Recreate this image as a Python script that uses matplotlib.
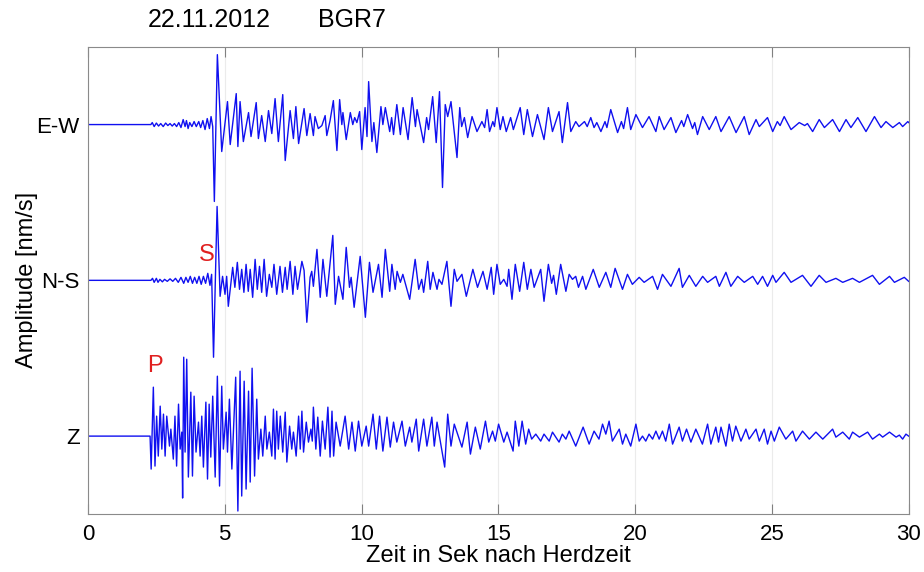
import matplotlib
matplotlib.use('Agg')

import numpy as np
import matplotlib.pyplot as plt

# ------------------------------------------------------------
# Daten: Umkehrpunkte (Zeit [s], Amplitude [counts]) je Komponente
# abgelesen aus dem Seismogramm BGR7, 22.11.2012
# ------------------------------------------------------------
ew = [(0, 0), (2.30, 0), (2.35, 2), (2.42, -2), (2.50, 1.5), (2.58, -1.5), (2.66, 1), (2.75, -2),
      (2.84, 1.5), (2.92, -1), (3.00, 1), (3.08, -1.5), (3.16, 1), (3.24, -2), (3.32, 2), (3.40, -3),
      (3.48, 5), (3.55, -2), (3.60, 4), (3.66, -4), (3.72, 2), (3.80, -2), (3.88, 3), (3.96, -2),
      (4.05, 3), (4.12, -3), (4.20, 4), (4.28, -5), (4.36, 6), (4.44, -4), (4.50, 8), (4.56, -2),
      (4.62, -77), (4.73, 70), (4.89, -27), (5.10, 23), (5.20, -20), (5.42, 31), (5.48, -22),
      (5.56, 23), (5.68, -17), (5.87, 12), (5.96, -12), (6.15, 22), (6.23, -14), (6.35, 9),
      (6.48, -17), (6.60, 14), (6.72, -9), (6.84, 26), (6.96, -17), (7.12, 30), (7.21, -36),
      (7.39, 14), (7.51, -14), (7.60, 18), (7.70, -19), (7.90, 16), (8.00, -11), (8.12, 11),
      (8.24, -11), (8.30, 8), (8.42, -4), (8.55, -1), (8.67, 9), (8.73, -11), (8.85, 4), (8.97, 24),
      (9.10, -26), (9.20, 25), (9.28, 0), (9.32, 12), (9.44, -15), (9.59, 12), (9.68, 0), (9.75, 7),
      (9.83, 2), (9.93, 13), (10.01, -25), (10.13, 17), (10.20, -12), (10.26, 43), (10.38, -17),
      (10.45, 2), (10.56, -28), (10.71, 18), (10.78, 0), (10.87, 17), (11.03, -7), (11.10, 7),
      (11.17, -10), (11.29, 20), (11.42, -10), (11.52, 17), (11.70, -15), (11.85, 27), (11.97, -2),
      (12.03, 15), (12.27, -18), (12.38, 7), (12.45, -5), (12.60, 28), (12.73, -18), (12.85, 33),
      (12.96, -63), (13.06, 20), (13.15, 8), (13.27, 23), (13.49, -33), (13.59, 17), (13.66, -2),
      (13.76, 7), (13.88, -13), (14.04, 8), (14.22, -7), (14.40, 3), (14.50, -3), (14.59, 15),
      (14.68, -7), (14.80, 3), (14.86, -2), (14.95, 17), (15.07, -5), (15.17, 8), (15.29, -7),
      (15.45, 7), (15.55, -5), (15.80, 17), (15.93, -10), (16.06, 15), (16.25, -12), (16.43, 10),
      (16.67, -15), (16.83, 17), (16.98, -7), (17.22, 13), (17.34, -18), (17.53, 22), (17.65, -7),
      (17.83, 3), (17.95, -2), (18.15, 3), (18.25, -2), (18.38, 7), (18.50, -3), (18.60, 2),
      (18.75, -7), (18.90, 3), (18.97, -3), (19.11, 15), (19.36, -8), (19.50, 3), (19.58, -4),
      (19.72, 17), (19.84, -5), (20.03, 10), (20.27, -3), (20.51, 8), (20.76, -7), (20.88, 8),
      (21.06, -5), (21.31, 7), (21.49, -8), (21.70, 4), (21.78, -2), (21.92, 10), (22.10, -4),
      (22.18, 2), (22.28, -10), (22.47, 8), (22.71, -5), (22.95, 8), (23.14, -7), (23.44, 8),
      (23.69, -8), (23.99, 8), (24.17, -10), (24.42, 5), (24.54, -2), (24.84, 7), (25.03, -7),
      (25.20, 3), (25.30, -1), (25.45, 8), (25.70, -5), (26.00, 2), (26.20, -1), (26.30, 1),
      (26.49, -7), (26.73, 5), (26.92, -3), (27.22, 5), (27.47, -7), (27.71, 5), (27.89, -3),
      (28.14, 7), (28.44, -7), (28.75, 8), (28.99, -3), (29.17, 3), (29.42, -3), (29.66, 2),
      (29.78, -2), (29.97, 3), (30.0, 2)]

ns = [(0, 0), (2.30, 0), (2.36, 2), (2.42, -2), (2.50, 2), (2.56, -2), (2.63, 1), (2.72, -1.5),
      (2.80, 1), (2.90, -1), (3.00, 1.5), (3.10, -1), (3.20, 2), (3.30, -2), (3.40, 3), (3.50, -3),
      (3.58, 3), (3.66, -2), (3.74, 4), (3.82, -3), (3.90, 3), (3.98, -3), (4.06, 4), (4.14, -4),
      (4.22, 4), (4.30, -3), (4.38, 7), (4.46, -5), (4.52, 6), (4.59, -77), (4.72, 74), (4.83, -16),
      (4.92, 4), (5.01, -14), (5.07, 4), (5.13, -26), (5.29, 13), (5.37, -7), (5.46, 18), (5.54, -9),
      (5.62, 11), (5.70, -12), (5.78, 16), (5.86, -11), (5.93, 11), (6.02, -17), (6.11, 21),
      (6.19, -9), (6.27, 14), (6.35, -12), (6.44, 21), (6.53, -16), (6.63, 6), (6.72, -7),
      (6.80, 16), (6.90, -14), (7.02, 14), (7.11, -12), (7.21, 13), (7.28, -9), (7.39, 19),
      (7.49, -14), (7.57, 14), (7.66, -9), (7.82, 19), (7.90, 10), (8.00, -42), (8.12, 3), (8.18, 9),
      (8.24, -6), (8.37, 31), (8.49, -17), (8.59, 21), (8.73, -16), (8.95, 45), (9.04, -24),
      (9.16, 4), (9.32, -19), (9.44, 33), (9.56, -7), (9.62, 3), (9.73, -27), (9.95, 24),
      (10.14, -37), (10.29, 18), (10.42, -12), (10.62, 16), (10.75, -17), (10.87, 31), (11.03, -11),
      (11.11, 16), (11.23, -9), (11.30, 9), (11.42, -2), (11.51, 6), (11.76, -19), (11.96, 21),
      (12.09, -9), (12.20, 1), (12.27, -12), (12.42, 19), (12.51, -9), (12.61, 8), (12.76, -9),
      (12.83, 1), (12.94, -4), (13.12, 19), (13.27, -26), (13.39, 11), (13.49, -1), (13.67, 6),
      (13.83, -16), (14.07, 11), (14.24, -7), (14.44, 9), (14.59, -9), (14.74, 13), (14.83, -14),
      (14.95, 16), (15.07, -4), (15.20, 1), (15.32, -6), (15.38, 11), (15.50, -19), (15.62, 16),
      (15.78, -11), (15.93, 18), (16.06, -9), (16.19, 11), (16.31, -7), (16.55, 11), (16.67, -21),
      (16.83, 16), (16.95, -3), (17.02, 5), (17.12, -14), (17.28, 16), (17.47, -11), (17.59, 6),
      (17.71, 1), (17.83, 4), (17.93, -7), (18.08, 4), (18.20, -9), (18.47, 11), (18.69, -7),
      (18.93, 8), (19.11, -7), (19.27, 12), (19.54, -9), (19.72, 6), (19.90, -4), (20.15, 3),
      (20.33, -2), (20.64, 4), (20.82, -9), (21.00, 6), (21.31, -6), (21.61, 12), (21.73, -7),
      (21.98, 5), (22.22, -6), (22.47, 4), (22.65, -2), (22.95, 4), (23.08, -6), (23.32, 8),
      (23.50, -6), (23.75, 4), (23.99, -2), (24.30, 4), (24.48, -4), (24.66, 4), (24.84, -6),
      (25.03, 5), (25.15, -2), (25.45, 8), (25.70, -2), (26.12, 5), (26.43, -6), (26.73, 5),
      (26.98, -2), (27.34, 2), (27.59, -2), (27.95, 2), (28.20, -2), (28.68, 5), (28.93, -4),
      (29.30, 4), (29.48, -2), (29.84, 3), (30.0, -1)]

z = [(0, 0), (2.27, 0), (2.31, -33), (2.39, 49), (2.45, -30), (2.51, 20), (2.57, -20), (2.64, 30),
     (2.70, -13), (2.76, 22), (2.82, -20), (2.88, 20), (2.98, -10), (3.03, 7), (3.12, -23),
     (3.18, 20), (3.24, -30), (3.31, 32), (3.37, -13), (3.43, 4), (3.46, -62), (3.50, 79),
     (3.55, -16), (3.61, 77), (3.67, -41), (3.76, 44), (3.82, -40), (3.88, 40), (3.95, -16),
     (4.04, 14), (4.10, -20), (4.16, 20), (4.22, -31), (4.31, 34), (4.37, -43), (4.43, 32),
     (4.49, -21), (4.56, 40), (4.65, -41), (4.73, 60), (4.81, -50), (4.89, 50), (4.95, -13),
     (5.05, 24), (5.10, -16), (5.17, 37), (5.26, -33), (5.40, 59), (5.48, -75), (5.56, 65),
     (5.62, -60), (5.71, 55), (5.78, -53), (5.87, 45), (5.93, -46), (6.00, 68), (6.09, -40),
     (6.17, 37), (6.23, -23), (6.32, 7), (6.39, -20), (6.48, 20), (6.54, -13), (6.63, 4),
     (6.72, -20), (6.78, 27), (6.84, -23), (6.90, 25), (6.96, -13), (7.03, 20), (7.12, -16),
     (7.21, 24), (7.27, -26), (7.37, 10), (7.45, -13), (7.51, 4), (7.61, -20), (7.70, 20),
     (7.76, -13), (7.82, 25), (7.88, -16), (7.98, 14), (8.06, -6), (8.15, 7), (8.20, -5),
     (8.24, 29), (8.33, -13), (8.40, 19), (8.49, -20), (8.57, 15), (8.67, -13), (8.77, 29),
     (8.85, -21), (8.92, 25), (8.98, -20), (9.07, 14), (9.22, -10), (9.40, 20), (9.53, -13),
     (9.65, 14), (9.77, -15), (9.89, 15), (10.01, -10), (10.17, 10), (10.26, -10), (10.42, 22),
     (10.54, -13), (10.66, 20), (10.78, -15), (10.93, 19), (11.05, -11), (11.17, 14), (11.29, -6),
     (11.48, 15), (11.60, -10), (11.76, 9), (11.84, -6), (12.00, 17), (12.09, -15), (12.27, 17),
     (12.39, -10), (12.57, 19), (12.66, -10), (12.76, 14), (13.04, -31), (13.15, 22), (13.27, -10),
     (13.39, 12), (13.67, -11), (13.86, 14), (13.98, -18), (14.16, 9), (14.34, -13), (14.53, 15),
     (14.65, -6), (14.79, 5), (14.89, -5), (15.01, 12), (15.20, -6), (15.32, 4), (15.54, -15),
     (15.62, 15), (15.75, -10), (15.87, 15), (16.00, -8), (16.11, 7), (16.22, -3), (16.37, 2),
     (16.55, -5), (16.67, 2), (16.86, -5), (16.98, 4), (17.22, -6), (17.34, 2), (17.47, -3),
     (17.59, 5), (17.83, -10), (18.10, 9), (18.32, -8), (18.50, 5), (18.68, -3), (18.81, 12),
     (18.93, 2), (19.05, 15), (19.17, -5), (19.42, 7), (19.54, -8), (19.66, 2), (19.84, -10),
     (20.03, 12), (20.15, -5), (20.27, 0), (20.39, -5), (20.51, 2), (20.64, -3), (20.76, 5),
     (20.88, -3), (21.00, 5), (21.12, -5), (21.25, 12), (21.37, -8), (21.61, 9), (21.73, -5),
     (21.88, 7), (22.04, -6), (22.22, 7), (22.46, -8), (22.65, 12), (22.77, -8), (22.95, 9),
     (23.05, -6), (23.14, 9), (23.32, -10), (23.44, 12), (23.56, -5), (23.68, 10), (23.87, -5),
     (24.05, 7), (24.17, -3), (24.42, 7), (24.54, -5), (24.72, 7), (24.84, -8), (24.97, 5),
     (25.09, -5), (25.27, 9), (25.51, -3), (25.76, 5), (25.88, -5), (26.12, 5), (26.37, -3),
     (26.61, 4), (26.86, -3), (27.22, 7), (27.34, -1), (27.59, 4), (27.83, -3), (27.95, 4),
     (28.20, -1), (28.50, 4), (28.68, -3), (28.93, 2), (29.05, -1), (29.30, 4), (29.54, -1),
     (29.66, 1), (29.78, -3), (29.90, 2), (30.0, 0)]

komponenten = ['Z', 'N-S', 'E-W']
spuren = [z, ns, ew]
SKALA = 156.0   # counts pro Spurabstand

# ------------------------------------------------------------
# Abbildung
# ------------------------------------------------------------
plt.rcParams['font.family'] = ['Liberation Sans', 'DejaVu Sans']

fig = plt.figure(figsize=(9.24, 5.72), dpi=100)
ax = fig.add_axes([0.0952, 0.1014, 0.8882, 0.817])

for i, spur in enumerate(spuren):
    t = np.array([p[0] for p in spur])
    a = np.array([p[1] for p in spur])
    ax.plot(t, i + a / SKALA, color='#1010f0', lw=1.0)

ax.set_xlim(0, 30)
ax.set_ylim(-0.5, 2.5)
ax.set_xticks([0, 5, 10, 15, 20, 25, 30])
ax.set_yticks([0, 1, 2])
ax.set_yticklabels(komponenten)
ax.grid(axis='x', color='#ebebeb', lw=0.8)
ax.set_axisbelow(True)

ax.tick_params(axis='x', direction='in', length=7, top=True, color='#808080',
               labelsize=16, pad=7)
ax.tick_params(axis='y', direction='in', length=0, labelsize=16, pad=6)
for s in ax.spines.values():
    s.set_color('#8a8a8a')

ax.set_xlabel('Zeit in Sek nach Herdzeit', fontsize=17, labelpad=0)
ax.set_ylabel('Amplitude [nm/s]', fontsize=17, labelpad=-1)

# Einsätze
ax.text(2.45, 0.45, 'P', color='#e02020', fontsize=17, ha='center', va='center')
ax.text(4.35, 1.16, 'S', color='#e02020', fontsize=17, ha='center', va='center')

fig.text(148 / 924, 1 - 20 / 572, '22.11.2012', fontsize=18, va='center')
fig.text(318 / 924, 1 - 20 / 572, 'BGR7', fontsize=18, va='center')

fig.savefig('out.png', dpi=100)
plt.close(fig)
